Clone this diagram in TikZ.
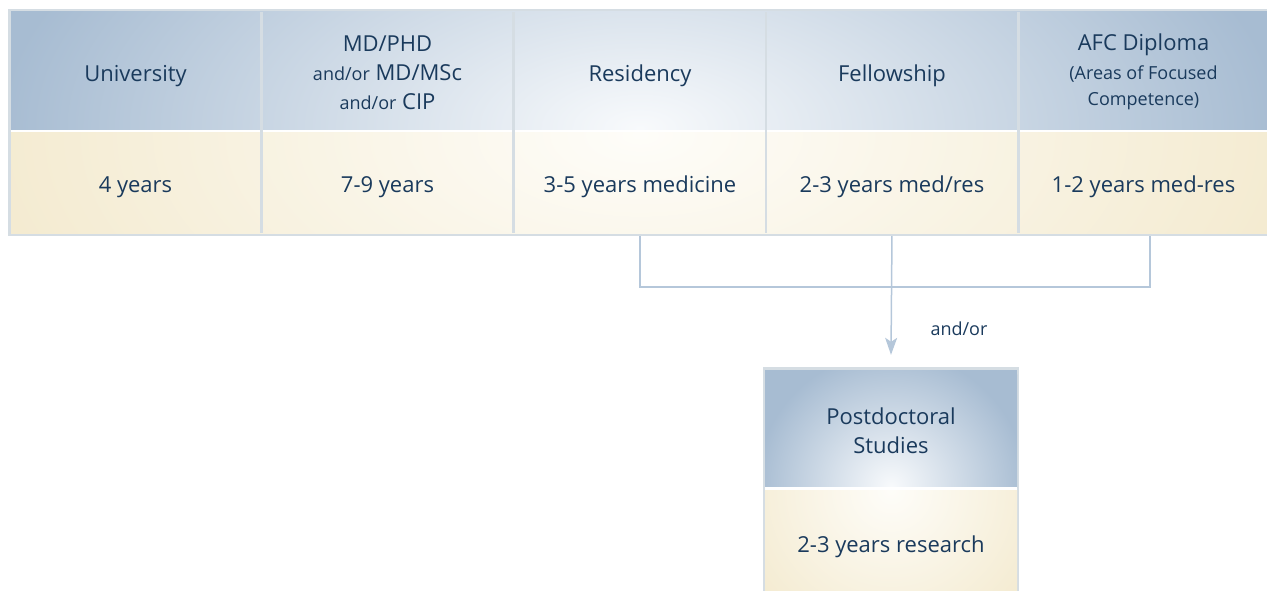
\documentclass[tikz,border=0pt]{standalone}
\usepackage{fontspec}
\setmainfont{Open Sans}
\usetikzlibrary{arrows.meta}
\definecolor{navy}{HTML}{1A3A5C}
\definecolor{hblue}{HTML}{A7BCD2}
\definecolor{hlight}{HTML}{F8FAFC}
\definecolor{cream}{HTML}{F4EBD1}
\definecolor{creamlight}{HTML}{FEFDF9}
\definecolor{framec}{HTML}{D5DDE3}
\definecolor{linec}{HTML}{B5C7DA}
\pgfdeclareradialshading{bshade}{\pgfpoint{0bp}{0bp}}{color(0bp)=(hlight); color(20bp)=(hblue); color(50bp)=(hblue)}
\pgfdeclareradialshading{cshade}{\pgfpoint{0bp}{0bp}}{color(0bp)=(creamlight); color(20bp)=(cream); color(50bp)=(cream)}
\newcommand\bigf{\fontsize{22}{29}\selectfont}
\newcommand\smf{\fontsize{18}{26}\selectfont}
\begin{document}
\begin{tikzpicture}[x=1pt,y=-1pt,
  hcell/.style={minimum width=250, minimum height=118, inner sep=0, draw=none},
  vcell/.style={minimum width=250, minimum height=100, inner sep=0, draw=none},
  lbl/.style={text=navy, font=\bigf, align=center, inner sep=0, anchor=base},
  slbl/.style={text=navy, font=\smf, align=center, inner sep=0, anchor=base},
  conn/.style={draw=linec, line width=1.5},
  arr/.style={conn, -{Stealth[length=17, width=12, inset=4]}}]
\useasboundingbox (0,0) rectangle (1267,591);
% cells (structure)
\node[hcell] (h1) at (135.5,71) {};
\node[hcell] (h2) at (387.5,71) {};
\node[hcell] (h3) at (640,71) {};
\node[hcell] (h4) at (892,71) {};
\node[hcell] (h5) at (1143.5,71) {};
\node[vcell] (v1) at (135.5,183) {};
\node[vcell] (v2) at (387.5,183) {};
\node[vcell] (v3) at (640,183) {};
\node[vcell] (v4) at (892,183) {};
\node[vcell] (v5) at (1143.5,183) {};
\node[minimum width=252, minimum height=117, inner sep=0] (pdh) at (891,428.5) {};
\node[minimum width=252, minimum height=101, inner sep=0] (pdv) at (891,540.5) {};
\coordinate (j) at (892,287);
% connectors
\draw[conn] (v3.south) |- (j) -| ([xshift=6.5]v5.south);
\draw[arr] (v4.south) -- ([yshift=15]pdh.north);
% table frame
\fill[framec] (8,9) rectangle (1267,236);
\begin{scope}
\clip (11,12) rectangle (1267,130);
\fill[hblue] (11,12) rectangle (1267,130);
\shade[shading=bshade] (640,128) ellipse [x radius=800, y radius=400];
\end{scope}
\fill[white] (11,130) rectangle (1267,133);
\begin{scope}
\clip (11,133) rectangle (1267,233);
\fill[cream] (11,133) rectangle (1267,233);
\shade[shading=cshade] (640,135) ellipse [x radius=812, y radius=406];
\end{scope}
\foreach \x in {261.5, 513.5, 766, 1018.5}
  \fill[framec] (\x-1.4,12) rectangle (\x+1.4,233);
% postdoc frame
\fill[framec] (763,367) rectangle (1019,595);
\begin{scope}
\clip (765,370) rectangle (1017,487);
\fill[hblue] (765,370) rectangle (1017,487);
\shade[shading=bshade] (891,487) circle (169);
\end{scope}
\fill[white] (765,487) rectangle (1017,490);
\begin{scope}
\clip (765,490) rectangle (1017,595);
\fill[cream] (765,490) rectangle (1017,595);
\shade[shading=cshade] (891,490) circle (206);
\end{scope}
% texts
\node[lbl] (t1) at (135.5,81.7) {University};
\node[lbl] (t2) at (387.5,110) {MD/PHD\\{\smf and/or} MD/MSc\\{\smf and/or} CIP};
\node[lbl] (t3) at (640,81.7) {Residency};
\node[lbl] (t4) at (892,81.7) {Fellowship};
\node[lbl] (t5) at (1143.5,106) {AFC Diploma\\{\smf (Areas of Focused}\\[-3pt]{\smf Competence)}};
\node[lbl] (u1) at (135.5,192.7) {4 years};
\node[lbl] (u2) at (387.5,192.7) {7-9 years};
\node[lbl] (u3) at (640,192.7) {3-5 years medicine};
\node[lbl] (u4) at (892,192.7) {2-3 years med/res};
\node[lbl] (u5) at (1143.5,192.7) {1-2 years med-res};
\node[lbl] (p1) at (891,453) {Postdoctoral\\Studies};
\node[lbl] (p2) at (891,552.7) {2-3 years research};
\node[slbl] (lab) at (959,335) {and/or};
\end{tikzpicture}
\end{document}
